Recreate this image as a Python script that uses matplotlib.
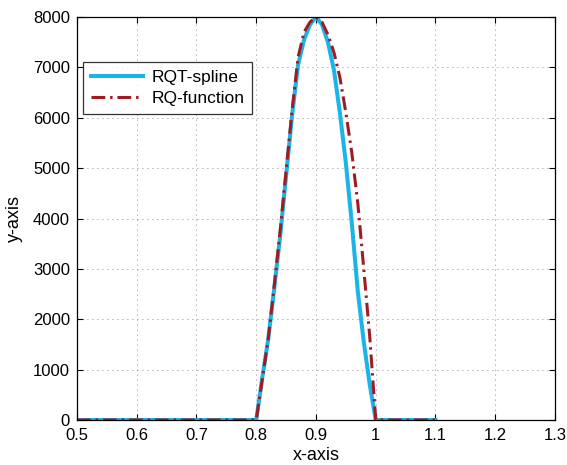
import matplotlib
matplotlib.use('Agg')
import matplotlib.pyplot as plt

plt.rcParams['font.family'] = ['Liberation Sans', 'DejaVu Sans']

# values
x_pts = [0.50, 0.60, 0.70, 0.80, 0.81, 0.82, 0.83, 0.84, 0.85, 0.86, 0.87, 0.88, 0.89, 0.90,
         0.91, 0.92, 0.93, 0.94, 0.95, 0.96, 0.97, 0.98, 0.99, 1.00, 1.05, 1.10]
rqt_spline = [0, 0, 0, 0, 830, 1600, 2600, 3650, 4850, 6050, 7050, 7550, 7850, 8000,
              7850, 7500, 6950, 6100, 5100, 3900, 2550, 1550, 700, 0, 0, 0]
rq_function = [0, 0, 0, 0, 800, 1600, 2650, 3750, 4950, 6150, 7200, 7700, 7900, 8000,
               7900, 7650, 7300, 6800, 6100, 5300, 4300, 3000, 1650, 0, 0, 0]

x_ticks = [0.5, 0.6, 0.7, 0.8, 0.9, 1.0, 1.1, 1.2, 1.3]
x_labels = ['0.5', '0.6', '0.7', '0.8', '0.9', '1', '1.1', '1.2', '1.3']
y_ticks = [0, 1000, 2000, 3000, 4000, 5000, 6000, 7000, 8000]

fig = plt.figure(figsize=(5.67, 4.65), dpi=100)
ax = fig.add_axes([0.1358, 0.0968, 0.843, 0.8666])

ax.plot(x_pts, rqt_spline, color='#1CB4E6', lw=2.9, label='RQT-spline')
ax.plot(x_pts, rq_function, color='#A01C22', lw=2.2, dashes=(4.5, 1.6, 0.8, 1.6),
        label='RQ-function')

ax.set_xlim(0.5, 1.3)
ax.set_ylim(0, 8000)
ax.set_xticks(x_ticks)
ax.set_xticklabels(x_labels)
ax.set_yticks(y_ticks)
ax.tick_params(direction='in', top=True, right=True, length=4, labelsize=12, width=0.8)
ax.tick_params(axis='x', pad=6)
ax.tick_params(axis='y', pad=5)
ax.grid(True, linestyle=(0, (1, 5)), color='#666666', linewidth=0.6)
for s in ax.spines.values():
    s.set_linewidth(0.9)
    s.set_zorder(5)

ax.set_xlabel('x-axis', fontsize=13, labelpad=3)
ax.set_ylabel('y-axis', fontsize=13, labelpad=7)

leg = ax.legend(loc='upper left', bbox_to_anchor=(0.0126, 0.888), borderaxespad=0,
                fontsize=12.5, fancybox=False, edgecolor='black', handlelength=3.0,
                borderpad=0.45, labelspacing=0.35, handletextpad=0.5)
leg.get_frame().set_linewidth(0.9)

fig.savefig('out.png', dpi=100)
